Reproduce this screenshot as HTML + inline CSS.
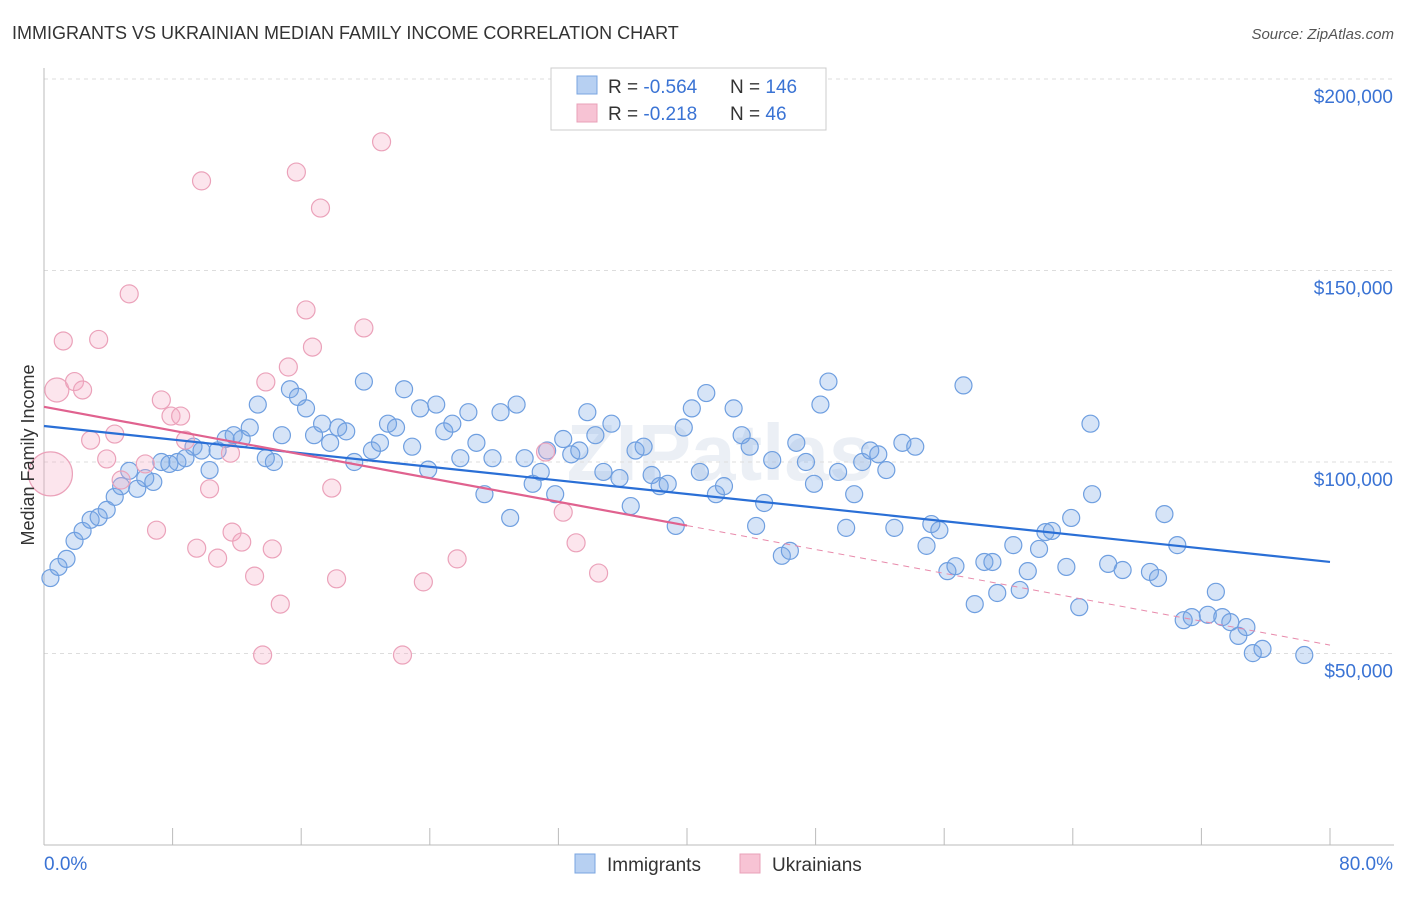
<!DOCTYPE html>
<html><head><meta charset="utf-8"><style>
body{margin:0;background:#fff;font-family:"Liberation Sans",sans-serif;}
svg text{font-family:"Liberation Sans",sans-serif;}
</style></head><body>
<svg id="chart" width="1406" height="892" xmlns="http://www.w3.org/2000/svg">
<text x="12" y="39" font-size="18" fill="#333">IMMIGRANTS VS UKRAINIAN MEDIAN FAMILY INCOME CORRELATION CHART</text>
<text x="1394" y="39" font-size="15" fill="#555" text-anchor="end" font-style="italic">Source: ZipAtlas.com</text>
<text x="720" y="480" font-size="80" fill="#dfe6f0" text-anchor="middle" font-weight="bold" opacity="0.6">ZIPatlas</text>
<g id="grid"></g>
<g id="axes"></g>
<g id="marks"></g>
<g id="trends"></g>
<text transform="translate(34,455) rotate(-90)" font-size="18" fill="#333" text-anchor="middle">Median Family Income</text>
<g>
<rect x="551" y="68" width="275" height="62" fill="#fff" stroke="#ccc"/>
<rect x="577" y="76" width="20" height="18" fill="#b7d0f2" stroke="#7aa5e0"/>
<rect x="577" y="104" width="20" height="18" fill="#f7c3d4" stroke="#e8a0b8"/>
<text x="608" y="93" font-size="19" fill="#333">R = <tspan fill="#3a73d4">-0.564</tspan></text>
<text x="730" y="93" font-size="19" fill="#333">N = <tspan fill="#3a73d4">146</tspan></text>
<text x="608" y="120" font-size="19" fill="#333">R = <tspan fill="#3a73d4"> -0.218</tspan></text>
<text x="730" y="120" font-size="19" fill="#333">N = <tspan fill="#3a73d4">  46</tspan></text>
</g>
<g>
<rect x="575" y="854" width="20" height="19" fill="#b7d0f2" stroke="#7aa5e0"/>
<text x="607" y="871" font-size="19" fill="#333">Immigrants</text>
<rect x="740" y="854" width="20" height="19" fill="#f7c3d4" stroke="#e8a0b8"/>
<text x="772" y="871" font-size="19" fill="#333">Ukrainians</text>
</g>
</svg>
<script>
const xTicks=[0,8,16,24,32,40,48,56,64,72,80];
const yTicks=[50000,100000,150000,200000];
const yTickLabels=["$50,000","$100,000","$150,000","$200,000"];
const xLabels=["0.0%","80.0%"];
const blueX=[0.4,0.9,1.4,1.9,2.4,2.9,3.4,3.9,4.4,4.8,5.3,5.8,6.3,6.8,7.3,7.8,8.3,8.8,9.3,9.8,10.3,10.8,11.3,11.8,12.3,12.8,13.3,13.8,14.3,14.8,15.3,15.8,16.3,16.8,17.3,17.8,18.3,18.8,19.3,19.9,20.4,20.9,21.4,21.9,22.4,22.9,23.4,23.9,24.4,24.9,25.4,25.9,26.4,26.9,27.4,27.9,28.4,29.0,29.4,29.9,30.4,30.9,31.3,31.8,32.3,32.8,33.3,33.8,34.3,34.8,35.3,35.8,36.5,36.8,37.3,37.8,38.3,38.8,39.3,39.8,40.3,40.8,41.2,41.8,42.3,42.9,43.4,43.9,44.3,44.8,45.3,45.9,46.4,46.8,47.4,47.9,48.3,48.8,49.4,49.9,50.4,50.9,51.4,51.9,52.4,52.9,53.4,54.2,54.9,55.2,55.7,56.2,56.7,57.2,57.9,58.5,59.0,59.3,60.3,60.7,61.2,61.9,62.3,62.7,63.6,63.9,64.4,65.1,65.2,66.2,67.1,68.8,69.3,69.7,70.5,70.9,71.4,72.4,72.9,73.3,73.8,74.3,74.8,75.2,75.8,78.4];
const blueY=[69.7,72.6,74.7,79.4,82.0,84.9,85.6,87.5,90.9,93.7,97.7,93.0,95.8,94.8,100,99.5,100,101,104,103,97.9,103,106,107,106,109,115,101,100,107,119,117,114,107,110,105,109,108,100,121,103,105,110,109,119,104,114,98,115,108,110,101,113,105,91.6,101,113,85.4,115,101,94.3,97.4,103,91.6,106,102,103,113,107,97.4,110,95.8,88.5,103,104,96.6,93.7,94.3,83.3,109,114,97.4,118,91.6,93.7,114,107,104,83.3,89.3,100.5,75.5,76.8,105,100,94.3,115,121,97.4,82.8,91.6,100,103,102,97.9,82.8,105,104,78.1,83.8,82.2,71.5,72.8,120,62.9,73.9,73.9,65.8,78.3,66.6,71.5,77.3,81.7,82.0,72.6,85.4,62.1,110,91.6,73.4,71.8,71.3,69.7,86.4,78.3,58.7,59.5,60.1,66.1,59.5,58.2,54.6,56.9,50.1,51.2,49.6];
const pinkX=[0.4,0.8,1.2,1.9,2.4,2.9,3.4,3.9,4.4,4.8,5.3,6.3,7.0,7.3,7.9,8.5,8.8,9.5,9.8,10.3,10.8,11.6,11.7,12.3,13.1,13.6,13.8,14.2,14.7,15.2,15.7,16.3,16.7,17.2,17.9,18.2,19.9,21.0,22.3,23.6,25.7,31.2,32.3,33.1,34.5];
const pinkY=[96.9,118.8,131.6,121,118.8,105.7,132,100.8,107.3,95.3,143.9,99.5,82.2,116.2,112,112,105.7,77.5,173.4,93,74.9,102.3,81.7,79.1,70.2,49.6,120.9,77.3,62.9,124.8,175.7,139.7,130,166.3,93.2,69.5,135,183.6,49.6,68.7,74.7,102.6,86.9,78.9,71.0];
const pinkSize=[22,12,9,9,9,9,9,9,9,9,9,9,9,9,9,9,9,9,9,9,9,9,9,9,9,9,9,9,9,9,9,9,9,9,9,9,9,9,9,9,9,9,9,9,9];
const blueTrend=[[0,109.4],[80,73.9]];
const pinkTrend=[[0,114.4],[40,83.4],[80,52.2]];
const NS="http://www.w3.org/2000/svg";
const X=v=>44+v/80*1286;
const Y=k=>845-k/50*191.5;
function mk(tag,attrs,parent){const e=document.createElementNS(NS,tag);for(const k in attrs)e.setAttribute(k,attrs[k]);parent.appendChild(e);return e;}
const grid=document.getElementById('grid'),axes=document.getElementById('axes'),marks=document.getElementById('marks'),trends=document.getElementById('trends');
yTicks.forEach((t,i)=>{
 const l=mk('line',{x1:44,x2:1394,y1:Y(t/1000),y2:Y(t/1000),stroke:'#ddd','stroke-dasharray':'4,4'},grid);
 
 
 const tx=mk('text',{x:1393,y:Y(t/1000)+24,'font-size':19,fill:'#3a73d4','text-anchor':'end'},axes);
 tx.textContent=yTickLabels[i];
 
 
});
const ax=mk('line',{x1:44,x2:1394,y1:845,y2:845,stroke:'#bbb'},axes);


const ay=mk('line',{x1:44,x2:44,y1:68,y2:845,stroke:'#bbb'},axes);


xTicks.forEach(t=>{
 const l=mk('line',{x1:X(t),x2:X(t),y1:828,y2:845,stroke:'#bbb'},axes);
 
 
});
[[0,'start',44],[80,'end',1393]].forEach((d,i)=>{
 const tx=mk('text',{x:d[2],y:870,'font-size':19,fill:'#3a73d4','text-anchor':d[1]},axes);
 tx.textContent=xLabels[i];
 
 
});
blueX.forEach((v,i)=>{
 const c=mk('circle',{cx:X(v),cy:Y(blueY[i]),r:8.5,fill:'rgba(120,165,230,0.3)',stroke:'#6f9fe0','stroke-width':1.2},marks);
 
 
});
pinkX.forEach((v,i)=>{
 const c=mk('circle',{cx:X(v),cy:Y(pinkY[i]),r:pinkSize[i],fill:'rgba(244,170,196,0.3)',stroke:'#eba2ba','stroke-width':1.2},marks);
 
 
});
const bl=mk('line',{x1:X(blueTrend[0][0]),y1:Y(blueTrend[0][1]),x2:X(blueTrend[1][0]),y2:Y(blueTrend[1][1]),stroke:'#2a6fd6','stroke-width':2.2},trends);


const pl=mk('line',{x1:X(pinkTrend[0][0]),y1:Y(pinkTrend[0][1]),x2:X(pinkTrend[1][0]),y2:Y(pinkTrend[1][1]),stroke:'#e0628f','stroke-width':2.2},trends);


const pd=mk('line',{x1:X(pinkTrend[1][0]),y1:Y(pinkTrend[1][1]),x2:X(pinkTrend[2][0]),y2:Y(pinkTrend[2][1]),stroke:'#e88aab','stroke-width':1,'stroke-dasharray':'6,5'},trends);


</script>
</body></html>
